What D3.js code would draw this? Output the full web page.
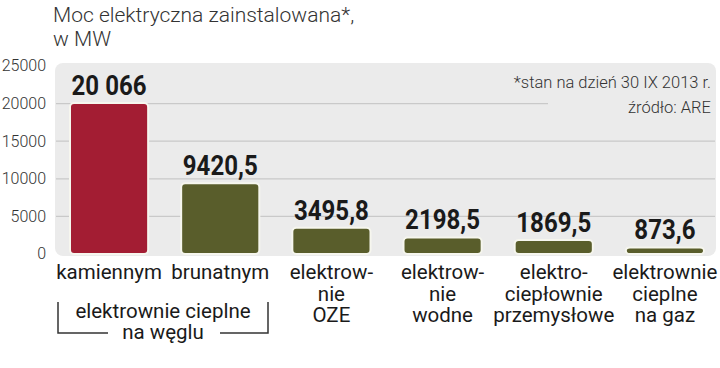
<!DOCTYPE html>
<html>
<head>
<meta charset="utf-8">
<script src="https://cdn.jsdelivr.net/npm/d3@7"></script>
<style>
  body { margin: 0; background: #fff; }
  svg { display: block; }
</style>
</head>
<body>
<svg id="chart"></svg>
<script>
// dane
const categories = ["kamiennym", "brunatnym", "elektrow-\nnie\nOZE", "elektrow-\nnie\nwodne", "elektro-\nciepłownie\nprzemysłowe", "elektrownie\ncieplne\nna gaz"];
const values = [20066, 9420.5, 3495.8, 2198.5, 1869.5, 873.6];
const valueLabels = ["20 066", "9420,5", "3495,8", "2198,5", "1869,5", "873,6"];
const yTicks = [0, 5000, 10000, 15000, 20000, 25000];
const barColors = ["#a31d33", "#595d2b", "#595d2b", "#595d2b", "#595d2b", "#595d2b"];

const W = 720, H = 368;
const svg = d3.select("#chart").attr("width", W).attr("height", H);

const x = d3.scaleBand().domain(d3.range(values.length)).range([70, 704]).paddingInner(0.297).paddingOuter(0);
const y = d3.scaleLinear().domain([0, 25000]).range([254, 66]);

// tytul
svg.append("text").attr("x", 53).attr("y", 22)
  .style("font", "300 21px Roboto").attr("fill", "#333")
  .text("Moc elektryczna zainstalowana*,");
svg.append("text").attr("x", 53).attr("y", 46)
  .style("font", "300 21px Roboto").attr("fill", "#333")
  .text("w MW");

// tlo
svg.append("rect").attr("x", 55).attr("y", 63).attr("width", 661).attr("height", 193)
  .attr("rx", 8).attr("fill", "#ebebeb");

// siatka
svg.append("g").selectAll("line").data(yTicks.filter(d => d > 0 && d < 25000))
  .enter().append("line")
  .attr("x1", 56).attr("x2", d => d === 20000 ? 548 : 715)
  .attr("y1", d => y(d)).attr("y2", d => y(d))
  .attr("stroke", "#c9c9c9").attr("stroke-width", 1.2);

// os y
const yAxis = svg.append("g").attr("transform", "translate(46,0)")
  .call(d3.axisLeft(y).tickValues(yTicks).tickSize(0).tickPadding(0).tickFormat(d3.format("d")));
yAxis.select(".domain").remove();
yAxis.selectAll("text").style("font", "300 16px Roboto").attr("fill", "#333").attr("dy", "0.3em");

// przypis
svg.append("text").attr("x", 711).attr("y", 88).attr("text-anchor", "end")
  .style("font", "300 16.5px Roboto").attr("fill", "#333").text("*stan na dzień 30 IX 2013 r.");
svg.append("text").attr("x", 711).attr("y", 113).attr("text-anchor", "end")
  .style("font", "300 16.5px Roboto").attr("fill", "#333").text("źródło: ARE");

// slupki
svg.append("g").selectAll("rect").data(values).enter().append("rect")
  .attr("x", (d, i) => x(i)).attr("width", x.bandwidth())
  .attr("y", d => y(d)).attr("height", d => y(0) - y(d))
  .attr("rx", 4).attr("fill", (d, i) => barColors[i])
  .attr("stroke", "#f6f6ee").attr("stroke-width", 2);

// wartosci
svg.append("g").selectAll("text").data(values).enter().append("text")
  .attr("transform", (d, i) => `translate(${x(i) + x.bandwidth() / 2},${y(d) - 8}) scale(0.86,1)`)
  .attr("text-anchor", "middle")
  .style("font", "bold 28px Roboto")
  .attr("fill", "#1a1a1a")
  .text((d, i) => valueLabels[i]);

// kategorie
const cat = svg.append("g").selectAll("text").data(categories).enter().append("text")
  .attr("x", (d, i) => x(i) + x.bandwidth() / 2).attr("y", 279)
  .attr("text-anchor", "middle")
  .style("font", "20.5px Roboto").attr("fill", "#1a1a1a");
cat.selectAll("tspan").data(d => d.split("\n")).enter().append("tspan")
  .attr("x", function() { return this.parentNode.getAttribute("x"); })
  .attr("dy", (d, i) => i ? 21.5 : 0)
  .text(d => d);

// nawias dla wegla
const bx1 = 58, bx2 = 268, by1 = 302, by2 = 333;
svg.append("path")
  .attr("d", `M${bx1},${by1}V${by2}H108M220,${by2}H${bx2}V${by1}`)
  .attr("fill", "none").attr("stroke", "#333").attr("stroke-width", 1.5);
svg.append("text").attr("x", 163).attr("y", 318).attr("text-anchor", "middle")
  .style("font", "20.5px Roboto").attr("fill", "#1a1a1a").text("elektrownie cieplne");
svg.append("text").attr("x", 163).attr("y", 339).attr("text-anchor", "middle")
  .style("font", "20.5px Roboto").attr("fill", "#1a1a1a").text("na węglu");
</script>
</body>
</html>
